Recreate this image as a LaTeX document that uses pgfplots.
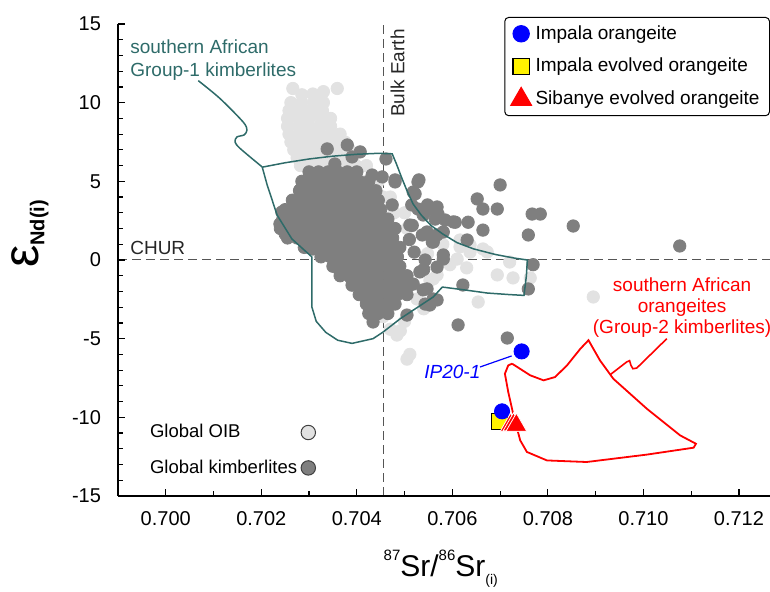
\documentclass[border=0pt]{standalone}
\usepackage{fontspec}
\setmainfont{Liberation Sans}
\usepackage{pgfplots}
\pgfplotsset{compat=1.18}

\definecolor{oib}{HTML}{E2E2E2}
\definecolor{kimb}{HTML}{7F7F7F}
\definecolor{grpone}{HTML}{2E6B69}
\definecolor{refline}{HTML}{555555}

\pgfplotsset{
  frame/.style={
    scale only axis, width=326pt, height=236pt,
    xmin=0.699, xmax=0.71265, ymin=-15, ymax=15,
  },
  dot/.style={only marks, mark=*, mark size=3.1pt, mark options={draw=#1, fill=#1}},
  small legend image/.style={
    legend image code/.code={\draw[mark repeat=2,mark phase=2,##1] plot coordinates {(0cm,0cm) (#1,0cm) (2*#1,0cm)};}
  },
}

\begin{document}
\begin{tikzpicture}
% background layer: reference lines and the two global data clouds
\begin{axis}[frame, hide axis,
  small legend image=0.25cm, legend plot pos=right,
  legend style={at={(0.173,0.097)}, anchor=center, draw=none, fill=none,
    font=\fontsize{9.25}{11}\selectfont, row sep=5.5pt, cells={anchor=west}},
]
\addplot[refline, line width=0.5pt, dash pattern=on 4.5pt off 2.5pt, forget plot] coordinates {(0.699,0) (0.71265,0)};
\addplot[refline, line width=0.5pt, dash pattern=on 4.5pt off 2.5pt, forget plot] coordinates {(0.70455,-15) (0.70455,15)};

% Global OIB
\addplot[dot=oib, forget plot] coordinates {
  (0.70266,10.9) (0.70359,10.9) (0.70330,10.7)
  (0.70285,10.5) (0.70308,10.55) (0.70325,10.4)
  (0.70262,10.0) (0.70285,10.0) (0.70310,10.0) (0.70330,10.0)
  (0.70258,9.5) (0.70280,9.5) (0.70305,9.5) (0.70328,9.5)
  (0.70255,9.0) (0.70278,9.0) (0.70300,9.0) (0.70325,9.0) (0.70345,9.0)
  (0.70255,8.5) (0.70278,8.5) (0.70300,8.5) (0.70322,8.5) (0.70345,8.5)
  (0.70258,8.0) (0.70280,8.0) (0.70302,8.0) (0.70325,8.0) (0.70348,8.0) (0.70365,8.0)
  (0.70262,7.5) (0.70285,7.5) (0.70308,7.5) (0.70330,7.5) (0.70352,7.5) (0.70375,7.5)
  (0.70268,7.0) (0.70290,7.0) (0.70312,7.0) (0.70335,7.0) (0.70358,7.0) (0.70385,7.0)
  (0.70275,6.5) (0.70298,6.5) (0.70320,6.5) (0.70342,6.5) (0.70365,6.5) (0.70392,6.5)
  (0.70282,6.0) (0.70305,6.0) (0.70328,6.0) (0.70350,6.0) (0.70372,6.0) (0.70398,6.0) (0.70420,6.0)
  (0.70420,5.0) (0.70445,5.0) (0.70450,4.0) (0.70470,4.0) (0.70478,3.0) (0.70500,3.0) (0.70505,2.0)
  (0.70568,-0.95) (0.70553,-1.3) (0.70526,-2.48) (0.70470,-4.4) (0.70491,-4.5) (0.70484,-4.77)
  (0.70511,-6.0) (0.70505,-6.3) (0.70694,-0.95) (0.70727,-1.14) (0.70720,-0.13) (0.70763,-1.14)
  (0.70654,-2.67) (0.70610,0.06) (0.70673,0.51) (0.70560,-1.2) (0.70637,0.5) (0.70616,1.27)
  (0.70895,-2.35) (0.70580,1.0) (0.70595,-0.3) (0.70548,0.4) (0.70540,-3.1) (0.70500,-3.9)
  (0.70455,-3.6) (0.70630,-0.5) (0.70616,0.83) (0.70637,0.95) (0.70664,0.7) (0.70455,4.0)
};

% Global kimberlites
\addplot[dot=kimb, forget plot] coordinates {
  (0.7030,5.6) (0.7032,5.6) (0.7034,5.6) (0.7036,5.6) (0.7038,5.6) (0.7040,5.6)
  (0.70285,5.0) (0.70305,5.0) (0.70325,5.0) (0.70345,5.0) (0.70365,5.0) (0.70385,5.0) (0.70405,5.0) (0.70425,5.0)
  (0.7028,4.4) (0.7030,4.4) (0.7032,4.4) (0.7034,4.4) (0.7036,4.4) (0.7038,4.4) (0.7040,4.4) (0.7042,4.4) (0.7044,4.4)
  (0.70265,3.8) (0.70285,3.8) (0.70305,3.8) (0.70325,3.8) (0.70345,3.8) (0.70365,3.8) (0.70385,3.8) (0.70405,3.8) (0.70425,3.8) (0.70445,3.8)
  (0.7025,3.2) (0.7027,3.2) (0.7029,3.2) (0.7031,3.2) (0.7033,3.2) (0.7035,3.2) (0.7037,3.2) (0.7039,3.2) (0.7041,3.2) (0.7043,3.2) (0.7045,3.2)
  (0.70245,2.6) (0.70265,2.6) (0.70285,2.6) (0.70305,2.6) (0.70325,2.6) (0.70345,2.6) (0.70365,2.6) (0.70385,2.6) (0.70405,2.6) (0.70425,2.6) (0.70445,2.6) (0.70465,2.6)
  (0.7024,2.0) (0.7026,2.0) (0.7028,2.0) (0.7030,2.0) (0.7032,2.0) (0.7034,2.0) (0.7036,2.0) (0.7038,2.0) (0.7040,2.0) (0.7042,2.0) (0.7044,2.0) (0.7046,2.0) (0.7048,2.0)
  (0.70255,1.4) (0.70275,1.4) (0.70295,1.4) (0.70315,1.4) (0.70335,1.4) (0.70355,1.4) (0.70375,1.4) (0.70395,1.4) (0.70415,1.4) (0.70435,1.4) (0.70455,1.4) (0.70475,1.4)
  (0.7029,0.8) (0.7031,0.8) (0.7033,0.8) (0.7035,0.8) (0.7037,0.8) (0.7039,0.8) (0.7041,0.8) (0.7043,0.8) (0.7045,0.8) (0.7047,0.8) (0.7049,0.8)
  (0.70325,0.2) (0.70345,0.2) (0.70365,0.2) (0.70385,0.2) (0.70405,0.2) (0.70425,0.2) (0.70445,0.2) (0.70465,0.2) (0.70485,0.2)
  (0.7035,-0.4) (0.7037,-0.4) (0.7039,-0.4) (0.7041,-0.4) (0.7043,-0.4) (0.7045,-0.4) (0.7047,-0.4) (0.7049,-0.4)
  (0.70365,-1.0) (0.70385,-1.0) (0.70405,-1.0) (0.70425,-1.0) (0.70445,-1.0) (0.70465,-1.0) (0.70485,-1.0) (0.70505,-1.0)
  (0.7039,-1.6) (0.7041,-1.6) (0.7043,-1.6) (0.7045,-1.6) (0.7047,-1.6) (0.7049,-1.6) (0.7051,-1.6)
  (0.70405,-2.2) (0.70425,-2.2) (0.70445,-2.2) (0.70465,-2.2) (0.70485,-2.2) (0.70505,-2.2)
  (0.7042,-2.8) (0.7044,-2.8) (0.7046,-2.8) (0.7048,-2.8)
  (0.70425,-3.4) (0.70445,-3.4) (0.70465,-3.4) (0.70434,-3.94)
  (0.70338,7.06) (0.70380,7.31) (0.70407,6.87) (0.70390,6.55) (0.70461,6.42) (0.70354,6.1)
  (0.70432,5.4) (0.70453,5.28) (0.70480,5.09) (0.70530,5.09) (0.70518,4.32) (0.70281,4.45)
  (0.70480,4.96) (0.70528,4.96) (0.70522,4.2) (0.70474,3.5) (0.70515,3.5) (0.70528,3.24) (0.70548,3.5)
  (0.70511,2.22) (0.70539,2.86) (0.70568,3.37) (0.70568,1.59) (0.70581,0.06) (0.70558,1.14)
  (0.70518,-1.53) (0.70539,-1.9) (0.70553,-2.86) (0.70568,-2.54) (0.70505,-3.5) (0.70520,0.5)
  (0.70540,-0.6) (0.70510,1.3) (0.70547,3.18) (0.70564,2.6) (0.70581,1.78) (0.70585,2.54)
  (0.70560,1.14) (0.70516,2.2) (0.70537,1.59) (0.70570,2.92) (0.70602,2.42) (0.70547,1.78)
  (0.70581,0.32) (0.70543,0.0) (0.70568,-0.45) (0.70532,-0.76) (0.70547,-1.84) (0.70560,-2.48) (0.70543,-2.8)
  (0.70700,4.77) (0.70652,3.88) (0.70664,3.24) (0.70694,3.24) (0.70767,2.92) (0.70784,2.92)
  (0.70853,2.16) (0.70759,1.59) (0.70664,1.9) (0.70633,2.4) (0.70606,2.4) (0.71076,0.89)
  (0.70769,-0.3) (0.70759,-1.84) (0.70622,-1.59) (0.70612,-4.13) (0.70715,-4.96) (0.70631,1.27)
  (0.70239,2.29) (0.70243,3.05) (0.70250,1.65) (0.70308,0.7) (0.70338,0.64) (0.70365,-0.76)
  (0.70386,-1.08) (0.70407,-1.72) (0.70421,-2.67)
};

\addlegendimage{only marks, mark=*, mark size=3.6pt, mark options={fill=oib, draw=black!75, line width=0.5pt}}
\addlegendentry{Global OIB}
\addlegendimage{only marks, mark=*, mark size=3.6pt, mark options={fill=kimb, draw=black!75, line width=0.5pt}}
\addlegendentry{Global kimberlites}
\end{axis}

% foreground: axes, fields, samples, annotations
\begin{axis}[frame,
  axis x line*=bottom, axis y line*=left,
  axis line style={line width=0.75pt, -},
  tick style={black, line width=0.6pt},
  major tick length=3.4pt, minor tick length=2.4pt,
  xtick={0.700,0.702,0.704,0.706,0.708,0.710,0.712},
  xticklabels={0.700,0.702,0.704,0.706,0.708,0.710,0.712},
  minor xtick={0.699,0.701,0.703,0.705,0.707,0.709,0.711},
  ytick={-15,-10,-5,0,5,10,15},
  yticklabels={-15,-10,-5,0,5,10,15},
  minor ytick={-14,-13,-12,-11,-9,-8,-7,-6,-4,-3,-2,-1,1,2,3,4,6,7,8,9,11,12,13,14},
  scaled x ticks=false, scaled y ticks=false,
  ticklabel style={font=\fontsize{10}{12}\selectfont},
  xticklabel style={yshift=-4pt},
  yticklabel style={xshift=-5pt},
  xlabel={\fontsize{15}{16}\selectfont\raisebox{8pt}{\fontsize{7.5}{8}\selectfont 87}Sr/\raisebox{8pt}{\fontsize{7.5}{8}\selectfont 86}Sr\raisebox{-4pt}{\fontsize{7}{8}\selectfont (i)}},
  xlabel style={at={(axis description cs:0.495,0)}, anchor=base, yshift=-40.5pt, inner sep=0pt},
  ylabel={{\fontsize{25}{25}\selectfont ε}\raisebox{-3pt}{\fontsize{10}{10}\selectfont\bfseries Nd(i)}},
  ylabel style={at={(axis description cs:-0.135,0.555)}, anchor=center},
  small legend image=0.2cm,
  legend style={at={(1,1.015)}, anchor=north east, draw=black, line width=0.5pt,
    rounded corners=2pt, font=\fontsize{9.5}{11}\selectfont, row sep=4pt,
    cells={anchor=west}},
]
% southern African Group-1 kimberlite field
\addplot[grpone, line width=0.75pt, forget plot] coordinates {
  (0.70202,5.9) (0.7025,6.18) (0.7030,6.42) (0.7035,6.6) (0.7040,6.72) (0.70445,6.78) (0.70474,6.75)
  (0.70483,6.1) (0.70493,5.3) (0.70505,4.4) (0.70518,3.55) (0.70535,2.85) (0.70555,2.2) (0.7058,1.65)
  (0.7061,1.1) (0.70645,0.7) (0.7069,0.35) (0.7073,0.12) (0.70757,0.0)
  (0.70755,-1.0) (0.70750,-2.25) (0.7072,-2.2) (0.70673,-2.1) (0.70625,-1.9) (0.70579,-1.72)
  (0.70560,-2.35) (0.70491,-3.73) (0.70455,-4.58) (0.70434,-5.0) (0.70390,-5.3) (0.70360,-5.1)
  (0.70335,-4.6) (0.70315,-3.9) (0.70306,-3.0) (0.70306,0.19) (0.70264,1.34) (0.70233,2.86)
  (0.70212,4.8) (0.70202,5.9)
};
\addplot[grpone, line width=0.75pt, smooth, tension=0.5, forget plot] coordinates {
  (0.70202,5.91) (0.70156,7.08) (0.70145,7.5) (0.70149,7.82) (0.70164,7.95) (0.70170,8.26)
  (0.70162,8.77) (0.70114,10.25) (0.70068,11.4)
};
% southern African orangeite (Group-2) field
\addplot[red, line width=0.9pt, forget plot] coordinates {
  (0.70725,-6.59) (0.70763,-7.33) (0.70791,-7.65) (0.70815,-7.44) (0.70840,-6.7) (0.70868,-5.64)
  (0.70885,-5.1) (0.70909,-6.38) (0.70937,-7.55) (0.71007,-9.45) (0.71077,-11.15) (0.71110,-11.68)
  (0.71105,-11.93) (0.71007,-12.37) (0.70881,-12.84) (0.70798,-12.74) (0.70756,-12.2) (0.70742,-11.46)
  (0.70728,-9.87) (0.70717,-8.39) (0.70710,-7.23) (0.70717,-6.7) (0.70725,-6.59)
};
\addplot[red, line width=0.8pt, forget plot] coordinates {
  (0.70930,-7.3) (0.70965,-6.48) (0.70971,-6.4) (0.70974,-6.7) (0.70978,-6.91) (0.70986,-6.87) (0.71049,-5.0)
};
% IP20-1 leader
\addplot[blue, line width=0.6pt, forget plot] coordinates {(0.70658,-6.8) (0.70724,-6.1)};

% samples
\addplot[only marks, mark=square*, mark size=4pt, mark options={fill=yellow, draw=black, line width=0.6pt}, forget plot]
  coordinates {(0.70698,-10.24)};
\addplot[only marks, mark=*, mark size=3.8pt, mark options={fill=blue, draw=blue}, forget plot]
  coordinates {(0.70745,-5.81) (0.70704,-9.62)};
\addplot[only marks, mark=triangle*, mark size=6pt, mark options={fill=red, draw=white, line width=0.4pt}, forget plot]
  coordinates {(0.70722,-10.5) (0.70728,-10.47) (0.70734,-10.5)};

\addlegendimage{only marks, mark=*, mark size=4.1pt, mark options={fill=blue, draw=blue}}
\addlegendentry{Impala orangeite}
\addlegendimage{only marks, mark=square*, mark size=4.1pt, mark options={fill=yellow, draw=black, line width=0.6pt}}
\addlegendentry{Impala evolved orangeite}
\addlegendimage{only marks, mark=triangle*, mark size=6pt, mark options={fill=red, draw=red}}
\addlegendentry{Sibanye evolved orangeite}

% annotations
\node[anchor=base west, inner sep=0pt, font=\fontsize{9.5}{11}\selectfont, text=black!85]
  at (axis cs:0.69925,0.32) {CHUR};
\node[anchor=south east, rotate=90, inner sep=0pt, font=\fontsize{9.5}{11}\selectfont, text=black!85]
  at (axis cs:0.70501,14.69) {Bulk Earth};
\node[anchor=north west, inner sep=0pt, align=left, text=grpone, font=\fontsize{9.5}{11.5}\selectfont]
  at (axis cs:0.69925,14.05) {southern African\\Group-1 kimberlites};
\node[anchor=north, inner sep=0pt, align=center, text=red, font=\fontsize{9.5}{10.5}\selectfont]
  at (axis cs:0.71081,-1.08) {southern African\\orangeites\\(Group-2 kimberlites)};
\node[anchor=center, inner sep=0pt, text=blue, font=\fontsize{9.5}{11}\selectfont\itshape]
  at (axis cs:0.70600,-7.12) {IP20-1};
\end{axis}
\pgfresetboundingbox
\path (-59pt,-48pt) rectangle (326pt,248pt);
\end{tikzpicture}
\end{document}
